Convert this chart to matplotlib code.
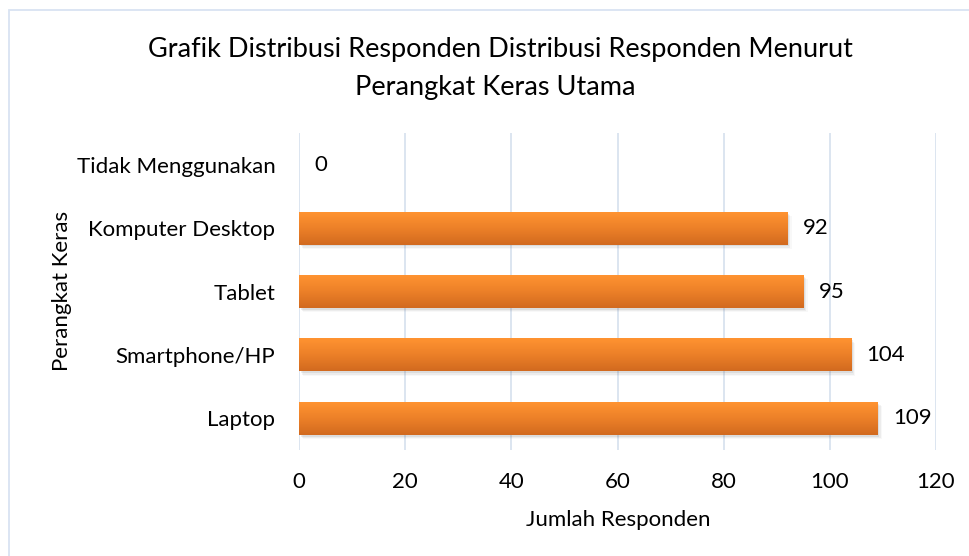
import numpy as np
import matplotlib.pyplot as plt
from matplotlib.patches import Rectangle
from matplotlib.colors import LinearSegmentedColormap

plt.rcParams['font.family'] = ['Lato', 'DejaVu Sans']

perangkat = ["Laptop", "Smartphone/HP", "Tablet", "Komputer Desktop", "Tidak Menggunakan"]
jumlah = [109, 104, 95, 92, 0]
x_ticks = [0, 20, 40, 60, 80, 100, 120]

W, H = 970, 556
fig = plt.figure(figsize=(W / 100, H / 100), dpi=100)
ax = fig.add_axes([299 / W, 1 - 450 / H, (936 - 299) / W, (450 - 133) / H])

# light frame like the spreadsheet chart area
fig.patches.append(Rectangle((9 / W, -0.1), 1.2, 1 - 10 / H + 0.1, transform=fig.transFigure,
                             fill=False, edgecolor='#D9E3F2', linewidth=1.3))

y = np.arange(len(perangkat))
h = 0.52

# soft shadow
for k, a in enumerate([0.10, 0.07, 0.04]):
    ax.barh(y - 0.03 - k * 0.02, jumlah, height=h, left=0.3 + k * 0.25, color='#555555',
            alpha=a, zorder=2, linewidth=0)

bars = ax.barh(y, jumlah, height=h, color='#F0822A', zorder=3, linewidth=0)

# vertical gradient on each bar
cmap = LinearSegmentedColormap.from_list('oranye', ['#D26A1F', '#EC8028', '#FF9331'])
grad = np.linspace(0, 1, 64).reshape(-1, 1)
for b in bars:
    if b.get_width() <= 0:
        continue
    x0, y0 = b.get_x(), b.get_y()
    im = ax.imshow(grad, cmap=cmap, aspect='auto', origin='lower',
                   extent=[x0, x0 + b.get_width(), y0, y0 + b.get_height()], zorder=4)
    im.set_clip_path(b)

ax.bar_label(bars, labels=[str(v) for v in jumlah], padding=11, fontsize=16, color='#000000')

ax.set_xlim(0, 120)
ax.set_ylim(-0.5, len(perangkat) - 0.5)
ax.set_xticks(x_ticks)
ax.set_yticks(y)
ax.set_yticklabels(perangkat)
ax.tick_params(axis='both', length=0, labelsize=16, colors='#000000')
ax.tick_params(axis='y', pad=17)
ax.tick_params(axis='x', pad=16)
ax.grid(axis='x', color='#D6E0EE', linewidth=1.2, zorder=0)
ax.set_axisbelow(True)
for s in ax.spines.values():
    s.set_visible(False)

fig.text(618 / W, 1 - 520 / H, "Jumlah Responden", ha='center', va='center', fontsize=16)
fig.text(62 / W, 1 - 291 / H, "Perangkat Keras", ha='center', va='center', fontsize=16,
         rotation=90)
fig.text(500 / W, 1 - 50 / H, "Grafik Distribusi Responden Distribusi Responden Menurut",
         ha='center', va='center', fontsize=19.5)
fig.text(495 / W, 1 - 88 / H, "Perangkat Keras Utama", ha='center', va='center', fontsize=19.5)

fig.savefig("out.png", dpi=100)
